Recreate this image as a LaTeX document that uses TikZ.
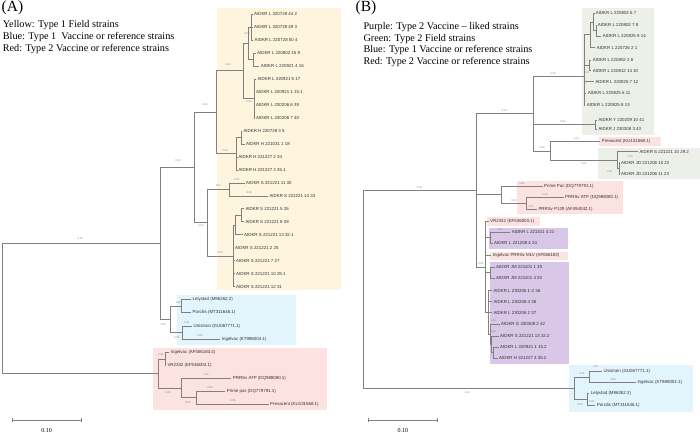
\documentclass[tikz,border=0pt]{standalone}
\usepackage{fontspec}
\setmainfont{Liberation Serif}
\newfontfamily\arialf{Liberation Sans}
\definecolor{yel}{HTML}{FDF5DE}
\definecolor{blu}{HTML}{E2F4FC}
\definecolor{pnk}{HTML}{FDE2E2}
\definecolor{grn}{HTML}{EDF0E8}
\definecolor{pur}{HTML}{D9C7E7}
\definecolor{brc}{HTML}{808080}
\definecolor{txc}{HTML}{333333}
\tikzset{
  br/.style={draw=brc, line width=0.7pt},
  leaf/.style={anchor=west, inner xsep=1.5pt, inner ysep=0pt, font=\arialf\fontsize{4.4}{5}\selectfont, text=txc},
  bl/.style={font=\arialf\fontsize{2.6}{3}\selectfont, text=gray, inner sep=0pt},
  lg/.style={anchor=west, inner sep=0pt, font=\fontsize{10.2}{12}\selectfont},
  ttl/.style={anchor=west, inner sep=0pt, font=\fontsize{15.5}{17}\selectfont},
  scl/.style={inner sep=0pt, font=\fontsize{6}{7}\selectfont}
}
\begin{document}
\begin{tikzpicture}[x=1pt,y=-1pt]
\useasboundingbox (0,0) rectangle (700,434);
% ---------- boxes A
\fill[yel] (217.3,8) rectangle (341,290);
\fill[blu] (176.7,295) rectangle (296,345);
\fill[pnk] (153.3,347.7) rectangle (326.7,410);
% ---------- boxes B
\fill[grn] (581.7,8.3) rectangle (654,135);
\fill[pnk] (599,137.3) rectangle (660.7,145.7);
\fill[grn] (598.3,147.7) rectangle (700,179.3);
\fill[pnk] (517.3,180.5) rectangle (623,214);
\fill[pnk] (486.7,217.3) rectangle (540,225.7);
\fill[pur] (489.3,227.7) rectangle (568.3,249);
\fill[pnk] (490,251.7) rectangle (568.3,260);
\fill[pur] (490,261.5) rectangle (569.3,364);
\fill[blu] (569.3,365) rectangle (692.7,411.7);
% ---------- legends
\node[ttl] (tA) at (1.5,7.5) {(A)};
\node[lg] (lA1) at (2.7,25) {Yellow: Type 1 Field strains};
\node[lg] (lA2) at (2.7,37.5) {Blue: Type 1 \ Vaccine or reference strains};
\node[lg] (lA3) at (2.7,49.5) {Red: Type 2 Vaccine or reference strains};
\node[ttl] (tB) at (355.5,7.5) {(B)};
\node[lg] (lB1) at (363.3,27.3) {Purple: Type 2 Vaccine – liked strains};
\node[lg] (lB2) at (363.3,39) {Green: Type 2 Field strains};
\node[lg] (lB3) at (363.3,50.5) {Blue: Type 1 Vaccine or reference strains};
\node[lg] (lB4) at (363.3,62) {Red: Type 2 Vaccine or reference strains};
% ---------- tree A internal nodes
\coordinate (aR) at (2,308.4);
\coordinate (aW) at (160.7,243.35);
\coordinate (aY) at (194.3,167.4);
\coordinate (aU) at (216,112.2);
\coordinate (aT) at (243,70.8);
\coordinate (aG1) at (248,43.25);
\coordinate (aP1) at (251,27);
\coordinate (aP2) at (253.5,59.5);
\coordinate (aG2) at (254,98.4);
\coordinate (aH) at (236.5,153.65);
\coordinate (aHp) at (241,137.4);
\coordinate (aSS) at (207.7,222.65);
\coordinate (aS1) at (229.3,189.4);
\coordinate (aS2) at (233,255.9);
\coordinate (aSi) at (235.5,225.05);
\coordinate (aSp) at (241.7,215.3);
\coordinate (aB) at (170.7,319.3);
\coordinate (aB1) at (181.7,306);
\coordinate (aB2) at (182.7,332.65);
\coordinate (aRn) at (158.3,373.4);
\coordinate (aRp) at (165,358.85);
\coordinate (aR2) at (181.7,387.9);
\coordinate (aR3) at (196,397.5);
% ---------- tree A leaves
\node[leaf] (a1) at (252.5,14) {AIDKR L 220728 44 2};
\node[leaf] (a2) at (252.5,27) {AIDKR L 220728 49 3};
\node[leaf] (a3) at (253,40) {AIDKR L 220728 50 4};
\node[leaf] (a4) at (255.5,53) {AIDKR L 220802 15 9};
\node[leaf] (a5) at (259.2,66) {AIDKR L 220921 4 16};
\node[leaf] (a6) at (255.8,78.9) {AIDKR L 220921 5 17};
\node[leaf] (a7) at (254.5,91.9) {AIDKR L 220921 1 15.1};
\node[leaf] (a8) at (254.5,104.9) {AIDKR L 230206 6 39};
\node[leaf] (a9) at (254.5,117.9) {AIDKR L 230206 7 40};
\node[leaf] (a10) at (241.8,130.9) {AIDKR H 220728 3 5};
\node[leaf] (a11) at (244.5,143.9) {AIDKR H 221031 1 18};
\node[leaf] (a12) at (236.8,156.9) {AIDKR H 221227 2 34};
\node[leaf] (a13) at (236.8,169.9) {AIDKR H 221227 3 35.1};
\node[leaf] (a14) at (244.5,182.9) {AIDKR S 221221 11 30};
\node[leaf] (a15) at (267.8,195.9) {AIDKR S 221221 14 33};
\node[leaf] (a16) at (243.8,208.8) {AIDKR S 221221 5 26};
\node[leaf] (a17) at (243.8,221.8) {AIDKR S 221221 8 28};
\node[leaf] (a18) at (242.5,234.8) {AIDKR S 221221 13 32.1};
\node[leaf] (a19) at (233.5,247.8) {AIDKR S 221221 2 25};
\node[leaf] (a20) at (234.5,260.8) {AIDKR S 221221 7 27};
\node[leaf] (a21) at (234.5,273.8) {AIDKR S 221221 10 29.1};
\node[leaf] (a22) at (234.5,286.8) {AIDKR S 221221 12 31};
\node[leaf] (aL) at (191,299.3) {Lelystad (M96262.2)};
\node[leaf] (aP) at (191,312.7) {Porcilis (MT311646.1)};
\node[leaf] (aUn) at (192,326) {Unistrain (GU067771.1)};
\node[leaf] (aI) at (220.2,339.3) {Ingelvac (KT988004.1)};
\node[leaf] (aI2) at (169.2,352.7) {Ingelvac (AF066183.4)};
\node[leaf] (aV) at (165.8,365) {VR2332 (EF536003.1)};
\node[leaf] (aAT) at (231.2,378.3) {PRRSv ATP (DQ988080.1)};
\node[leaf] (aPP) at (225.2,391) {Prime pac (DQ779791.1)};
\node[leaf] (aPV) at (268.5,404) {Prevacent (KU131568.1)};
% ---------- tree A branches
\foreach \p/\c in {aR/aW,aR/aRn,aW/aY,aW/aB,aY/aU,aY/aSS,aU/aT,aU/aH,aT/aG1,aT/aG2,
  aG1/aP1,aG1/aP2,aP1/a1.west,aP1/a2.west,aP1/a3.west,aP2/a4.west,aP2/a5.west,
  aG2/a6.west,aG2/a7.west,aG2/a8.west,aG2/a9.west,aH/aHp,aH/a12.west,aH/a13.west,
  aHp/a10.west,aHp/a11.west,aSS/aS1,aSS/aS2,aS1/a14.west,aS1/a15.west,aS2/aSi,
  aS2/a19.west,aS2/a20.west,aS2/a21.west,aS2/a22.west,aSi/aSp,aSi/a18.west,
  aSp/a16.west,aSp/a17.west,aB/aB1,aB/aB2,aB1/aL.west,aB1/aP.west,aB2/aUn.west,
  aB2/aI.west,aRn/aRp,aRn/aR2,aRp/aI2.west,aRp/aV.west,aR2/aAT.west,aR2/aR3,
  aR3/aPP.west,aR3/aPV.west}
  \draw[br] (\p) |- (\c);
% ---------- tree A branch labels
\node[bl] (la1) at (80,238.5) {0.30};
\node[bl] (la2) at (178,160.5) {0.02};
\node[bl] (la3) at (205,105) {0.05};
\node[bl] (la4) at (247,33.5) {0.00};
\node[bl] (la5) at (228,64.5) {0.00};
\node[bl] (la6) at (249,102) {0.00};
\node[bl] (la7) at (225,150.5) {0.00};
\node[bl] (la8) at (201,226) {0.03};
\node[bl] (la9) at (218.3,186) {0.01};
\node[bl] (la10) at (220,252.5) {0.00};
\node[bl] (la11) at (236.7,179.5) {0.02};
\node[bl] (la12) at (249.3,192.5) {0.05};
\node[bl] (la13) at (178.3,303) {0.00};
\node[bl] (la14) at (163,325) {0.00};
\node[bl] (la15) at (186.7,323) {0.00};
\node[bl] (la16) at (176.7,337.3) {0.00};
\node[bl] (la17) at (200,336) {0.05};
\node[bl] (la18) at (161,355) {0.01};
\node[bl] (la19) at (206,374.5) {0.05};
\node[bl] (la20) at (168,392.7) {0.05};
\node[bl] (la21) at (210,387.5) {0.05};
\node[bl] (la22) at (187.7,402.7) {0.02};
\node[bl] (la23) at (232.7,400.7) {0.08};
% ---------- tree B internal nodes
\coordinate (bR) at (363,289.3);
\coordinate (bN476) at (476,190.45);
\coordinate (bN533) at (533,113.8);
\coordinate (bGc) at (584,76.7);
\coordinate (bGA) at (590,34.8);
\coordinate (bGs3) at (593.5,21.9);
\coordinate (bGp3) at (596,30.5);
\coordinate (bGp56) at (589,65.35);
\coordinate (bYJ) at (595,124.65);
\coordinate (bN551) at (550.7,150.85);
\coordinate (bN618) at (617.5,160);
\coordinate (bJD) at (619.3,168.35);
\coordinate (bN502) at (501.7,194.6);
\coordinate (bN526) at (526,203.15);
\coordinate (bVR) at (485.5,267.1);
\coordinate (bP421) at (490,237.8);
\coordinate (bJM) at (490.5,272.65);
\coordinate (bN488) at (488.5,312.5);
\coordinate (bN490) at (490,334.35);
\coordinate (bN491) at (491.5,344.4);
\coordinate (bN493) at (493,352.8);
\coordinate (bBB) at (574,388.2);
\coordinate (bBu) at (589.3,376.85);
\coordinate (bBl) at (587.5,399.5);
% ---------- tree B leaves
\node[leaf] (g1) at (594.2,13.3) {AIDKR L 220802 6 7};
\node[leaf] (g2) at (596.2,25) {AIDKR L 220802 7 8};
\node[leaf] (g3) at (601.2,36) {AIDKR L 220825 9 14};
\node[leaf] (g4) at (595.2,47.7) {AIDKR L 220726 2 1};
\node[leaf] (g5) at (591.2,60) {AIDKR L 220802 2 6};
\node[leaf] (g6) at (591.2,70.7) {AIDKR L 220812 14 10};
\node[leaf] (g7) at (593.8,81.7) {AIDKR L 220825 7 12};
\node[leaf] (g8) at (586.2,93.3) {AIDKR L 220825 6 11};
\node[leaf] (g9) at (585.2,105) {AIDKR L 220825 8 13};
\node[leaf] (g10) at (596.8,120) {AIDKR Y 220209 10 41};
\node[leaf] (g11) at (596.8,129.3) {AIDKR J 230308 3 43};
\node[leaf] (pv) at (600.2,141.7) {Prevacent (KU131568.1)};
\node[leaf] (g12) at (637.8,151.7) {AIDKR S 221221 10 29.2};
\node[leaf] (g13) at (619.5,162.7) {AIDKR JD 221206 10 22};
\node[leaf] (g14) at (619.5,174) {AIDKR JD 221206 11 23};
\node[leaf] (r1) at (542.5,186) {Prime Pac (DQ779791.1)};
\node[leaf] (r2) at (563.5,197.3) {PRRSv ATP (DQ988080.1)};
\node[leaf] (r3) at (536.8,209) {PRRSv P129 (AF494042.1)};
\node[leaf] (r4) at (488.5,221.7) {VR2332 (EF536003.1)};
\node[leaf] (p1) at (510.2,232.3) {AIDKR L 221101 4 21};
\node[leaf] (p2) at (492.5,243.3) {AIDKR L 221208 4 24};
\node[leaf] (r5) at (491.2,255.7) {Ingelvac PRRSv MLV (AF066183)};
\node[leaf] (p3) at (494.5,267) {AIDKR JM 221101 1 19};
\node[leaf] (p4) at (494.5,278.3) {AIDKR JM 221101 4 20};
\node[leaf] (p5) at (491.8,290.7) {AIDKR L 230206 1-2 36};
\node[leaf] (p6) at (491.8,301.7) {AIDKR L 230206 4 38};
\node[leaf] (p7) at (491.8,312.7) {AIDKR L 230206 2 37};
\node[leaf] (p8) at (499.5,324.3) {AIDKR G 230308 2 42};
\node[leaf] (p9) at (498.5,336) {AIDKR S 221221 13 32.2};
\node[leaf] (p10) at (498.5,347.3) {AIDKR L 220921 1 15.2};
\node[leaf] (p11) at (497.5,358.3) {AIDKR H 221227 3 35.2};
\node[leaf] (b1) at (601.8,371) {Unistrain (GU067771.1)};
\node[leaf] (b2) at (635.8,382.7) {Ingelvac (KT988004.1)};
\node[leaf] (b3) at (589.2,393.3) {Lelystad (M96262.2)};
\node[leaf] (b4) at (595.2,405.7) {Porcilis (MT311646.1)};
% ---------- tree B branches
\foreach \p/\c in {bR/bN476,bR/bBB,bN476/bN533,bN476/bN502,bN476/bVR,
  bN533/bGc,bN533/bYJ,bN533/bN551,
  bGc/bGA,bGc/bGp56,bGc/g7.west,bGc/g8.west,bGc/g9.west,
  bGA/bGs3,bGA/g4.west,bGs3/g1.west,bGs3/bGp3,bGp3/g2.west,bGp3/g3.west,
  bGp56/g5.west,bGp56/g6.west,bYJ/g10.west,bYJ/g11.west,bN551/pv.west,
  bN551/bN618,bN618/g12.west,bN618/bJD,bJD/g13.west,bJD/g14.west,
  bN502/r1.west,bN502/bN526,bN526/r2.west,bN526/r3.west,
  bVR/r4.west,bVR/bP421,bVR/r5.west,bVR/bJM,bVR/bN488,bP421/p1.west,bP421/p2.west,
  bJM/p3.west,bJM/p4.west,bN488/p5.west,bN488/p6.west,bN488/p7.west,bN488/bN490,
  bN490/p8.west,bN490/bN491,bN491/p9.west,bN491/bN493,bN493/p10.west,bN493/p11.west,
  bBB/bBu,bBB/bBl,bBu/b1.west,bBu/b2.west,bBl/b3.west,bBl/b4.west}
  \draw[br] (\p) |- (\c);
% ---------- tree B branch labels
\node[bl] (lb0) at (419.5,187.5) {0.06};
\node[bl] (lb1) at (467.3,392.7) {0.22};
\node[bl] (lb2) at (596,366.7) {0.07};
\node[bl] (lb3) at (613.3,379.3) {0.05};
\node[bl] (lb4) at (581.7,373.3) {0.00};
\node[bl] (lb5) at (591.7,401.7) {0.00};
\node[bl] (lb6) at (580,405) {0.00};
\node[bl] (lb7) at (563,121.5) {0.06};
\node[bl] (lb8) at (576.7,138.5) {0.07};
\node[bl] (lb9) at (630,157) {0.02};
\node[bl] (lb10) at (584,164) {0.04};
\node[bl] (lb11) at (610,171.7) {0.01};
\node[bl] (lb12) at (542,148) {0.09};
\node[bl] (lb13) at (553,73.5) {0.05};
\node[bl] (lb14) at (587,73) {0.01};
\node[bl] (lb24) at (504.5,110.5) {0.01};
\node[bl] (lb15) at (522,183.5) {0.06};
\node[bl] (lb16) at (545,194.5) {0.09};
\node[bl] (lb17) at (531,206.2) {0.01};
\node[bl] (lb18) at (514,200.5) {0.03};
\node[bl] (lb19) at (480.7,264) {0.04};
\node[bl] (lb20) at (500,229.5) {0.01};
\node[bl] (lb21) at (493.3,320.5) {0.00};
\node[bl] (lb22) at (493.3,332) {0.00};
% ---------- scale bars
\coordinate (sa1) at (12,420);
\coordinate (sa2) at (81,420);
\draw[br] (sa1) -- (sa2);
\draw[br] ([yshift=1.6pt]sa1) -- ([yshift=-1.6pt]sa1);
\draw[br] ([yshift=1.6pt]sa2) -- ([yshift=-1.6pt]sa2);
\node[scl] (sal) at (46.5,431) {0.10};
\coordinate (sb1) at (368.3,420);
\coordinate (sb2) at (437.3,420);
\draw[br] (sb1) -- (sb2);
\draw[br] ([yshift=1.6pt]sb1) -- ([yshift=-1.6pt]sb1);
\draw[br] ([yshift=1.6pt]sb2) -- ([yshift=-1.6pt]sb2);
\node[scl] (sbl) at (402.8,431) {0.10};
\end{tikzpicture}
\end{document}
